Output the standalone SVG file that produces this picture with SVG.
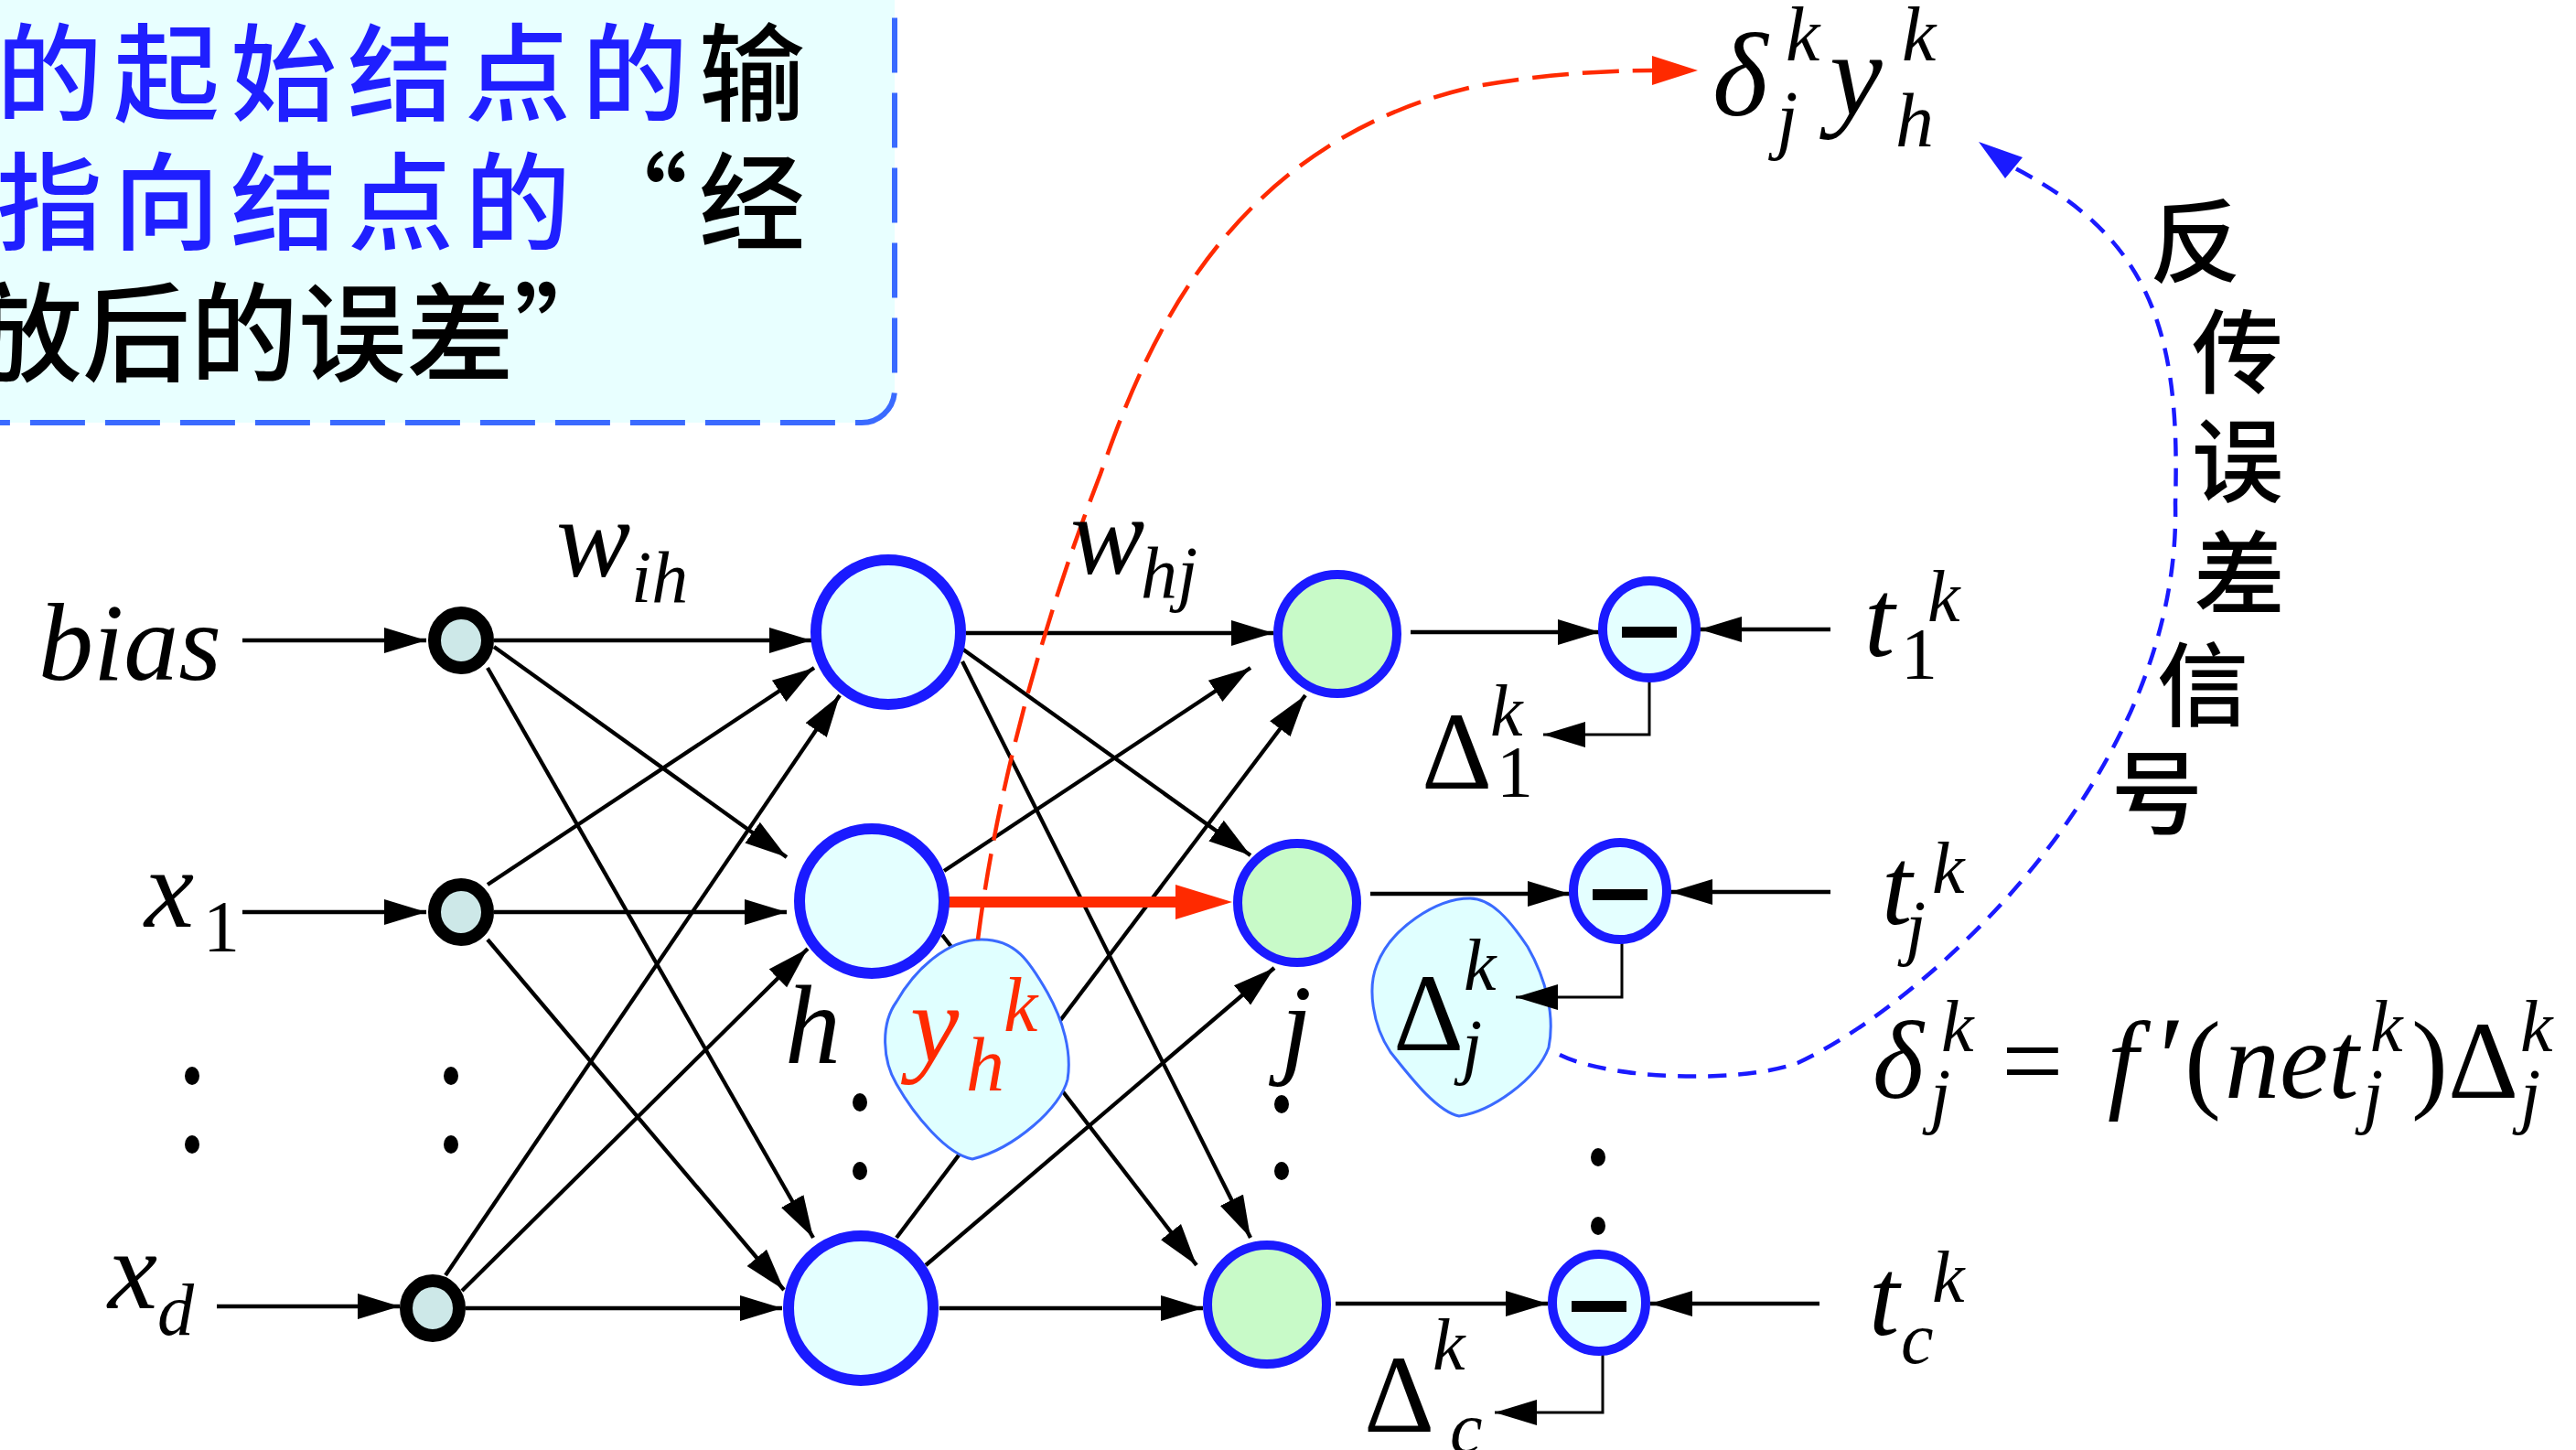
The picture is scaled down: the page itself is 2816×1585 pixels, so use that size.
<svg xmlns="http://www.w3.org/2000/svg" width="2816" height="1585" viewBox="0 0 2816 1585">
<defs>
<style>
.m{font-family:"Liberation Serif","Times New Roman",serif;font-style:italic;fill:#000}
.up{font-style:normal}
.cn{font-family:"Noto Sans CJK SC","Noto Sans",sans-serif;font-weight:500}
.ln{stroke:#000;stroke-width:4.3;fill:none}
.fb{stroke:#000;stroke-width:3;fill:none}
.hid{fill:#e4ffff;stroke:#1a1aff;stroke-width:12}
.out{fill:#c8fac8;stroke:#1a1aff;stroke-width:10}
.mn{fill:#e4ffff;stroke:#1a1aff;stroke-width:10}
.inp{fill:#cde8e8;stroke:#000;stroke-width:14}
.dot{fill:#000}
.blob{fill:#e0ffff;stroke:#3a6aff;stroke-width:3}
.red{fill:#ff2a00}
</style>
<marker id="ah" markerUnits="userSpaceOnUse" markerWidth="48" markerHeight="32" viewBox="0 -16 48 32" refX="46" refY="0" orient="auto"><path d="M0,-14 L46,0 L0,14 Z" fill="#000"/></marker>
</defs>
<rect x="0" y="0" width="2816" height="1585" fill="#fff"/>

<g id="note">
<rect x="-60" y="-60" width="1038" height="522" rx="36" fill="#e8ffff" stroke="#3a6aff" stroke-width="6" stroke-dasharray="60 22"/>
<text class="cn" font-size="116" letter-spacing="12" x="-4" y="123"><tspan fill="#1f1fff">的起始结点的</tspan><tspan fill="#000">输</tspan></text>
<text class="cn" font-size="116" letter-spacing="12" x="-4" y="264"><tspan fill="#1f1fff">指向结点的</tspan><tspan fill="#000">“经</tspan></text>
<text class="cn" font-size="118" x="-28" y="408" fill="#000">放后的误差”</text>
</g>

<g id="delta-j-blob">
<path class="blob" d="M1607,982 C1630,982 1650,1005 1670,1035 C1690,1070 1700,1110 1693,1145 C1680,1180 1630,1215 1595,1220 C1570,1215 1540,1175 1520,1150 C1500,1120 1495,1080 1505,1055 C1520,1015 1570,982 1607,982 Z"/>
</g>

<g id="connectors">
<line class="ln" x1="265" y1="700" x2="466" y2="700" marker-end="url(#ah)"/>
<line class="ln" x1="265" y1="997" x2="466" y2="997" marker-end="url(#ah)"/>
<line class="ln" x1="237" y1="1428" x2="437" y2="1428" marker-end="url(#ah)"/>

<line class="ln" x1="540" y1="700" x2="887" y2="700" marker-end="url(#ah)"/>
<line class="ln" x1="540" y1="707" x2="860" y2="937" marker-end="url(#ah)"/>
<line class="ln" x1="533" y1="730" x2="889" y2="1353" marker-end="url(#ah)"/>
<line class="ln" x1="533" y1="967" x2="890" y2="730" marker-end="url(#ah)"/>
<line class="ln" x1="540" y1="997" x2="860" y2="997" marker-end="url(#ah)"/>
<line class="ln" x1="533" y1="1027" x2="857" y2="1410" marker-end="url(#ah)"/>
<line class="ln" x1="487" y1="1394" x2="918" y2="760" marker-end="url(#ah)"/>
<line class="ln" x1="505" y1="1411" x2="883" y2="1037" marker-end="url(#ah)"/>
<line class="ln" x1="509" y1="1430" x2="855" y2="1430" marker-end="url(#ah)"/>

<line class="ln" x1="1056" y1="692" x2="1392" y2="692" marker-end="url(#ah)"/>
<line class="ln" x1="1053" y1="710" x2="1367" y2="935" marker-end="url(#ah)"/>
<line class="ln" x1="1052" y1="723" x2="1367" y2="1353" marker-end="url(#ah)"/>
<line class="ln" x1="1032" y1="952" x2="1367" y2="730" marker-end="url(#ah)"/>
<line class="ln" x1="1030" y1="1022" x2="1308" y2="1383" marker-end="url(#ah)"/>
<line class="ln" x1="980" y1="1353" x2="1427" y2="760" marker-end="url(#ah)"/>
<line class="ln" x1="1012" y1="1383" x2="1393" y2="1058" marker-end="url(#ah)"/>
<line class="ln" x1="1027" y1="1430" x2="1315" y2="1430" marker-end="url(#ah)"/>
<line x1="1037" y1="986" x2="1290" y2="986" stroke="#ff2a00" stroke-width="12"/>
<polygon class="red" points="1285,967 1347,986 1285,1005"/>

<line class="ln" x1="1542" y1="691" x2="1749" y2="691" marker-end="url(#ah)"/>
<line class="ln" x1="1498" y1="977" x2="1716" y2="977" marker-end="url(#ah)"/>
<line class="ln" x1="1460" y1="1425" x2="1692" y2="1425" marker-end="url(#ah)"/>
<line class="ln" x1="2001" y1="688" x2="1858" y2="688" marker-end="url(#ah)"/>
<line class="ln" x1="2001" y1="975" x2="1826" y2="975" marker-end="url(#ah)"/>
<line class="ln" x1="1989" y1="1425" x2="1804" y2="1425" marker-end="url(#ah)"/>

<polyline class="fb" points="1803,745 1803,803 1687,803" marker-end="url(#ah)"/>
<polyline class="fb" points="1773,1030 1773,1090 1657,1090" marker-end="url(#ah)"/>
<polyline class="fb" points="1752,1480 1752,1544 1634,1544" marker-end="url(#ah)"/>
</g>

<g id="input-nodes">
<ellipse id="n-bias" class="inp" cx="504" cy="700" rx="29" ry="30"/>
<ellipse id="n-x1" class="inp" cx="504" cy="997" rx="29" ry="30"/>
<ellipse id="n-xd" class="inp" cx="473" cy="1430" rx="29" ry="30"/>
</g>
<g id="hidden-nodes">
<circle id="n-h1" class="hid" cx="971" cy="691" r="79"/>
<circle id="n-h" class="hid" cx="953" cy="985" r="79"/>
<circle id="n-h3" class="hid" cx="941" cy="1430" r="79"/>
</g>
<g id="output-nodes">
<circle id="n-o1" class="out" cx="1462" cy="693" r="65"/>
<circle id="n-j" class="out" cx="1418" cy="987" r="65"/>
<circle id="n-oc" class="out" cx="1385" cy="1426" r="65"/>
</g>
<g id="minus-nodes">
<g id="n-m1"><ellipse class="mn" cx="1803" cy="688" rx="51" ry="53"/><rect x="1773" y="685" width="60" height="12"/></g>
<g id="n-mj"><ellipse class="mn" cx="1771" cy="974" rx="51" ry="53"/><rect x="1741" y="972" width="60" height="12"/></g>
<g id="n-mc"><ellipse class="mn" cx="1748" cy="1424" rx="51" ry="53"/><rect x="1718" y="1422" width="60" height="12"/></g>
</g>

<g id="yh-blob">
<path class="blob" d="M1073,1027 C1110,1027 1125,1050 1145,1085 C1162,1115 1172,1150 1167,1180 C1160,1210 1110,1255 1063,1267 C1035,1262 1000,1220 980,1185 C965,1160 962,1120 980,1095 C1000,1060 1035,1027 1073,1027 Z"/>
<text class="m" font-size="120" x="995" y="1160" style="fill:#ff2a00">y</text>
<text class="m" font-size="84" x="1056" y="1192" style="fill:#ff2a00">h</text>
<text class="m" font-size="84" x="1097" y="1127" style="fill:#ff2a00">k</text>
</g>

<g id="flow-curves">
<path d="M1069,1027 C1090,860 1140,680 1203,518 C1245,400 1330,160 1610,95 C1680,82 1750,77 1806,77" fill="none" stroke="#ff2a00" stroke-width="4.5" stroke-dasharray="40 15"/>
<polygon class="red" points="1806,61 1856,77 1806,93"/>
<path d="M1705,1153 C1760,1180 1900,1185 1965,1162 C2100,1100 2385,850 2378,550 C2384,360 2350,260 2201,183" fill="none" stroke="#1a1aff" stroke-width="4.5" stroke-dasharray="20 13"/>
<polygon points="2163,155 2211,172 2192,195" fill="#1a1aff"/>
</g>

<g id="dots">
<ellipse class="dot" cx="210" cy="1176" rx="8" ry="10"/><ellipse class="dot" cx="210" cy="1251" rx="8" ry="10"/>
<ellipse class="dot" cx="493" cy="1176" rx="8" ry="10"/><ellipse class="dot" cx="493" cy="1251" rx="8" ry="10"/>
<ellipse class="dot" cx="940" cy="1205" rx="8" ry="10"/><ellipse class="dot" cx="940" cy="1280" rx="8" ry="10"/>
<ellipse class="dot" cx="1401" cy="1207" rx="8" ry="10"/><ellipse class="dot" cx="1401" cy="1280" rx="8" ry="10"/>
<ellipse class="dot" cx="1747" cy="1265" rx="8" ry="10"/><ellipse class="dot" cx="1747" cy="1340" rx="8" ry="10"/>
</g>

<g id="labels">
<text class="m" font-size="120" x="42" y="743">bias</text>
<text class="m" font-size="122" x="158" y="1013">x</text><text class="m up" font-size="80" x="222" y="1040">1</text>
<text class="m" font-size="122" x="118" y="1430">x</text><text class="m" font-size="80" x="172" y="1459">d</text>
<text class="m" font-size="122" x="608" y="630">w</text><text class="m" font-size="80" x="690" y="658">ih</text>
<text class="m" font-size="122" x="1170" y="627">w</text><text class="m" font-size="80" x="1247" y="653">hj</text>
<text class="m" font-size="122" x="858" y="1162">h</text>
<text class="m" font-size="122" x="1400" y="1162">j</text>

<text class="m" font-size="130" x="1872" y="126">δ</text><text class="m" font-size="84" x="1952" y="66">k</text><text class="m" font-size="84" x="1942" y="158">j</text>
<text class="m" font-size="130" x="2000" y="125">y</text><text class="m" font-size="84" x="2079" y="66">k</text><text class="m" font-size="84" x="2072" y="160">h</text>

<text class="m" font-size="120" x="2038" y="717">t</text><text class="m up" font-size="80" x="2078" y="742">1</text><text class="m" font-size="80" x="2107" y="679">k</text>
<text class="m" font-size="120" x="2057" y="1010">t</text><text class="m" font-size="80" x="2083" y="1040">j</text><text class="m" font-size="80" x="2112" y="976">k</text>
<text class="m" font-size="120" x="2043" y="1459">t</text><text class="m" font-size="80" x="2078" y="1490">c</text><text class="m" font-size="80" x="2112" y="1423">k</text>

<text class="m up" font-size="120" x="1554" y="862">Δ</text><text class="m up" font-size="80" x="1636" y="871">1</text><text class="m" font-size="80" x="1629" y="804">k</text>
<text class="m up" font-size="120" x="1523" y="1148">Δ</text><text class="m" font-size="80" x="1600" y="1082">k</text><text class="m" font-size="80" x="1598" y="1170">j</text>
<text class="m up" font-size="120" x="1491" y="1565">Δ</text><text class="m" font-size="80" x="1566" y="1497">k</text><text class="m" font-size="80" x="1585" y="1588">c</text>

<text class="m" font-size="120" x="2047" y="1200">δ</text><text class="m" font-size="80" x="2122" y="1149">k</text><text class="m" font-size="80" x="2110" y="1224">j</text>
<text class="m up" font-size="120" x="2188" y="1200">=</text>
<text class="m" font-size="120" x="2304" y="1200">f</text><text class="m" font-size="130" x="2352" y="1200">′</text>
<text class="m up" font-size="120" x="2388" y="1200">(</text>
<text class="m" font-size="120" x="2432" y="1200">net</text><text class="m" font-size="80" x="2591" y="1149">k</text><text class="m" font-size="80" x="2583" y="1224">j</text>
<text class="m up" font-size="120" x="2636" y="1200">)</text>
<text class="m up" font-size="120" x="2676" y="1200">Δ</text><text class="m" font-size="80" x="2755" y="1149">k</text><text class="m" font-size="80" x="2755" y="1224">j</text>

<g class="cn" font-size="100" text-anchor="middle" fill="#000">
<text x="2400" y="301">反</text>
<text x="2446" y="422">传</text>
<text x="2446" y="541">误</text>
<text x="2448" y="664">差</text>
<text x="2408" y="786">信</text>
<text x="2358" y="904">号</text>
</g>
</g>
</svg>
